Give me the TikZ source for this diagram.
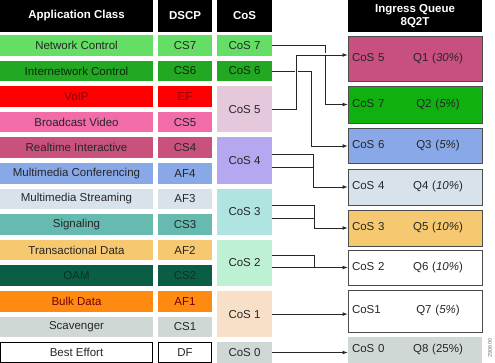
\documentclass[tikz,border=0pt]{standalone}
\usepackage{fontspec}
\setmainfont{Liberation Sans}
\usepackage{tikz}
\usetikzlibrary{arrows}
\definecolor{netctrl}{RGB}{100,222,100}
\definecolor{inetctrl}{RGB}{34,168,34}
\definecolor{voip}{RGB}{255,0,0}
\definecolor{bcast}{RGB}{242,108,170}
\definecolor{rtint}{RGB}{200,82,124}
\definecolor{mmconf}{RGB}{136,168,232}
\definecolor{mmstream}{RGB}{216,226,234}
\definecolor{signal}{RGB}{102,186,176}
\definecolor{trans}{RGB}{246,200,112}
\definecolor{oam}{RGB}{10,94,70}
\definecolor{bulk}{RGB}{255,138,18}
\definecolor{scav}{RGB}{208,216,214}
\definecolor{cosfive}{RGB}{230,200,220}
\definecolor{cosfour}{RGB}{182,168,240}
\definecolor{costhree}{RGB}{176,228,224}
\definecolor{costwo}{RGB}{190,240,212}
\definecolor{cosone}{RGB}{248,224,200}
\definecolor{queueone}{RGB}{200,80,128}
\definecolor{queuetwo}{RGB}{16,176,16}
\newcommand{\cellfont}{\fontsize{11.5}{13.5}\selectfont}
\tikzstyle{head} = [rectangle, minimum height=32pt, inner sep=0pt, text centered, fill=black, text=white, font=\cellfont\bfseries]
\tikzstyle{app} = [rectangle, minimum width=153pt, minimum height=20.5pt, inner sep=0pt, text centered, text=black!85]
\tikzstyle{dscp} = [rectangle, minimum width=54pt, minimum height=20.5pt, inner sep=0pt, text centered, text=black!85]
\tikzstyle{cos} = [rectangle, minimum width=55pt, minimum height=20.5pt, inner sep=0pt, text centered, text=black!85]
\tikzstyle{cosdbl} = [cos, minimum height=46.1pt]
\tikzstyle{queue} = [rectangle, minimum width=134pt, inner sep=4pt, text width=126pt, draw=black!70, line width=0.8pt, text=black!85]
\tikzstyle{arrow} = [line width=0.7pt, ->, >=latex, draw=black!85]
\tikzstyle{link} = [line width=0.7pt, draw=black!85]

\begin{document}
\begin{tikzpicture}[x=1pt, y=1pt, font=\cellfont]
    \useasboundingbox (0,0) rectangle (495,-363);

    % headers
    \node(AppHead)[head, minimum width=153pt] at (76.5,-16) {Application Class};
    \node(DscpHead)[head, minimum width=54pt] at (185,-16) {DSCP};
    \node(CosHead)[head, minimum width=55pt] at (244.5,-16) {CoS};
    \node(QueueHead)[head, minimum width=134pt, align=center] at (415,-16) {Ingress Queue\\8Q2T};

    % application classes
    \node(NetCtrl)[app, fill=netctrl] at (76.5,-45.3) {Network Control};
    \node(InetCtrl)[app, fill=inetctrl, text=black!75!inetctrl] at (76.5,-70.9) {Internetwork Control};
    \node(Voip)[app, fill=voip, text=red!55!black] at (76.5,-96.5) {VoIP};
    \node(BcastVideo)[app, fill=bcast] at (76.5,-122.1) {Broadcast Video};
    \node(RtInter)[app, fill=rtint] at (76.5,-147.7) {Realtime Interactive};
    \node(MmConf)[app, fill=mmconf] at (76.5,-173.3) {Multimedia Conferencing};
    \node(MmStream)[app, fill=mmstream] at (76.5,-198.9) {Multimedia Streaming};
    \node(Signal)[app, fill=signal] at (76.5,-224.5) {Signaling};
    \node(TransData)[app, fill=trans] at (76.5,-250.1) {Transactional Data};
    \node(Oam)[app, fill=oam, text=black!45!oam] at (76.5,-275.7) {OAM};
    \node(BulkData)[app, fill=bulk, text=red!45!black] at (76.5,-301.3) {Bulk Data};
    \node(Scav)[app, fill=scav] at (76.5,-326.9) {Scavenger};
    \node(BestEff)[app, draw=black, line width=0.8pt, minimum width=152pt, minimum height=19.5pt] at (76.5,-352.5) {Best Effort};

    % dscp values
    \node(Cs7)[dscp, fill=netctrl] at (185,-45.3) {CS7};
    \node(Cs6)[dscp, fill=inetctrl, text=black!75!inetctrl] at (185,-70.9) {CS6};
    \node(Ef)[dscp, fill=voip, text=red!55!black] at (185,-96.5) {EF};
    \node(Cs5)[dscp, fill=bcast] at (185,-122.1) {CS5};
    \node(Cs4)[dscp, fill=rtint] at (185,-147.7) {CS4};
    \node(Af4)[dscp, fill=mmconf] at (185,-173.3) {AF4};
    \node(Af3)[dscp, fill=mmstream] at (185,-198.9) {AF3};
    \node(Cs3)[dscp, fill=signal] at (185,-224.5) {CS3};
    \node(Af2)[dscp, fill=trans] at (185,-250.1) {AF2};
    \node(Cs2)[dscp, fill=oam, text=black!45!oam] at (185,-275.7) {CS2};
    \node(Af1)[dscp, fill=bulk, text=red!45!black] at (185,-301.3) {AF1};
    \node(Cs1)[dscp, fill=scav] at (185,-326.9) {CS1};
    \node(Df)[dscp, draw=black, line width=0.8pt, minimum width=53pt, minimum height=19.5pt] at (185,-352.5) {DF};

    % cos values
    \node(Cos7)[cos, fill=netctrl] at (244.5,-45.3) {CoS 7};
    \node(Cos6)[cos, fill=inetctrl, text=black!75!inetctrl] at (244.5,-70.9) {CoS 6};
    \node(Cos5)[cosdbl, fill=cosfive] at (244.5,-109.3) {CoS 5};
    \node(Cos4)[cosdbl, fill=cosfour] at (244.5,-160.5) {CoS 4};
    \node(Cos3)[cosdbl, fill=costhree] at (244.5,-211.7) {CoS 3};
    \node(Cos2)[cosdbl, fill=costwo] at (244.5,-262.9) {CoS 2};
    \node(Cos1)[cosdbl, fill=cosone] at (244.5,-314.1) {CoS 1};
    \node(Cos0)[cos, fill=scav] at (244.5,-352.5) {CoS 0};

    % ingress queues
    \node(Q1)[queue, fill=queueone, minimum height=45pt] at (415,-58.5) {CoS 5\hfill\makebox[52pt]{Q1 (\textit{30\%})}\hspace*{14pt}};
    \node(Q2)[queue, fill=queuetwo, minimum height=37pt] at (415,-104.5) {CoS 7\hfill\makebox[52pt]{Q2 (\textit{5\%})}\hspace*{14pt}};
    \node(Q3)[queue, fill=mmconf, minimum height=35pt] at (415,-146) {CoS 6\hfill\makebox[52pt]{Q3 (\textit{5\%})}\hspace*{14pt}};
    \node(Q4)[queue, fill=mmstream, minimum height=36pt] at (415,-187) {CoS 4\hfill\makebox[52pt]{Q4 (\textit{10\%})}\hspace*{14pt}};
    \node(Q5)[queue, fill=trans, minimum height=36pt] at (415,-228) {CoS 3\hfill\makebox[52pt]{Q5 (\textit{10\%})}\hspace*{14pt}};
    \node(Q6)[queue, fill=white, minimum height=35pt] at (415,-267.5) {CoS 2\hfill\makebox[52pt]{Q6 (\textit{10\%})}\hspace*{14pt}};
    \node(Q7)[queue, fill=white, minimum height=42pt] at (415,-311) {CoS1\hfill\makebox[52pt]{Q7 (\textit{5\%})}\hspace*{14pt}};
    \node(Q8)[queue, draw=none, fill=scav, minimum height=26pt] at (415,-350) {CoS 0\hfill\makebox[52pt]{Q8 (25\%)}\hspace*{14pt}};

    \node(FigId)[rotate=90, font=\fontsize{5.5}{6}\selectfont, text=black!55] at (490,-348) {290600};

    % cos to queue mapping
    \draw[arrow] (Cos7.east) -- ++(53,0) |- (Q2.west);
    \draw[arrow] (Cos6.east) -- ++(39,0) |- (Q3.west);
    \draw[arrow, preaction={draw=white, line width=3pt, -}] (Cos5.east) -- ++(24,0) |- ([yshift=3.5pt]Q1.west);
    \draw[arrow] ([yshift=6.5pt]Cos4.east) -- ++(41,0) |- (Q4.west);
    \draw[link] ([yshift=-7pt]Cos4.east) -- ++(41,0);
    \draw[arrow] ([yshift=6pt]Cos3.east) -- ++(42,0) |- (Q5.west);
    \draw[link] ([yshift=-7pt]Cos3.east) -- ++(42,0);
    \draw[arrow] ([yshift=7.5pt]Cos2.east) -- ++(42,0) |- (Q6.west);
    \draw[link] ([yshift=-4.6pt]Cos2.east) -- ++(42,0);
    \draw[arrow] (Cos1.east) -- (Cos1.east -| Q7.west);
    \draw[arrow] (Cos0.east) -- (Cos0.east -| Q8.west);
\end{tikzpicture}
\end{document}
